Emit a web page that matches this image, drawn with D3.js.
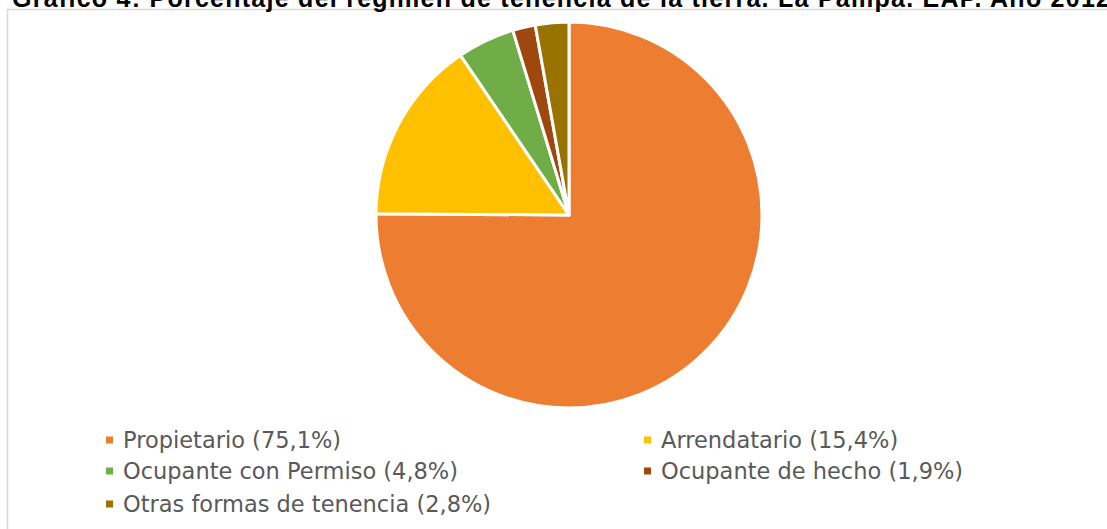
<!DOCTYPE html>
<html><head><meta charset="utf-8">
<script src="https://cdn.jsdelivr.net/npm/d3@7"></script>
<style>html,body{margin:0;padding:0;background:#fff;overflow:hidden}</style>
</head><body>
<svg id="c" width="1107" height="529"></svg>
<script>
const categories = ["Propietario", "Arrendatario", "Ocupante con Permiso", "Ocupante de hecho", "Otras formas de tenencia"];
const values = [75.1, 15.4, 4.8, 1.9, 2.8];
const labels = ["Propietario (75,1%)", "Arrendatario (15,4%)", "Ocupante con Permiso (4,8%)", "Ocupante de hecho (1,9%)", "Otras formas de tenencia (2,8%)"];
const colors = ["#ED7D31", "#FFC000", "#70AD47", "#9E480E", "#997300"];
const title = "Gráfico 4: Porcentaje del régimen de tenencia de la tierra. La Pampa. EAP. Año 2012";

const svg = d3.select("#c");
svg.append("rect").attr("x",7.5).attr("y",9.5).attr("width",1300).attr("height",700)
  .attr("fill","#fff").attr("stroke","#d9d9d9").attr("stroke-width",1.5);

svg.append("text").attr("x",12).attr("y",7).text(title)
  .attr("font-family","Liberation Sans, Arial, sans-serif").attr("font-weight","bold")
  .attr("font-size",25).attr("fill","#000")
  .attr("textLength",1098).attr("lengthAdjust","spacing");

const data = categories.map((c,i)=>({c, v:values[i], col:colors[i], label:labels[i]}));
const pie = d3.pie().value(d=>d.v).sort(null).startAngle(0).endAngle(2*Math.PI);
const arc = d3.arc().innerRadius(0).outerRadius(193);
const g = svg.append("g").attr("transform","translate(569,215)");
g.selectAll("path").data(pie(data)).join("path")
  .attr("d",arc).attr("fill",d=>d.data.col).attr("stroke","#fff").attr("stroke-width",3).attr("stroke-linejoin","round");

const colX = [106, 644];
const rowY = [440, 471, 504];
const leg = svg.append("g");
data.forEach((d,i)=>{
  const col = i%2, row = Math.floor(i/2);
  const x = colX[col], y = rowY[row];
  leg.append("rect").attr("x",x).attr("y",y-3.5).attr("width",7).attr("height",7).attr("fill",d.col);
  leg.append("text").attr("x",x+17).attr("y",y).attr("dy","0.36em").text(d.label)
    .attr("font-family","DejaVu Sans, sans-serif").attr("font-size",22.5).attr("fill","#595959");
});
</script>
</body></html>
